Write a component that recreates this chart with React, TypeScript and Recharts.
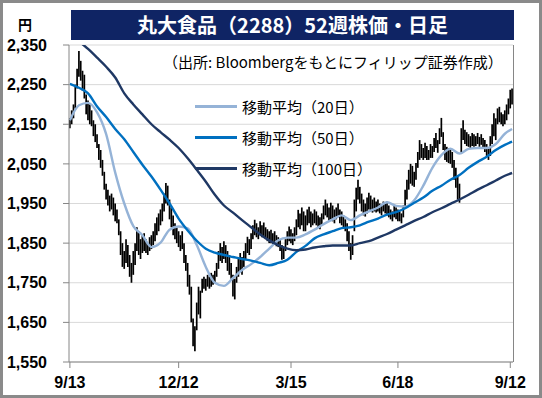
import React from 'react';
import { ComposedChart, Bar, Line, XAxis, YAxis, CartesianGrid } from 'recharts';

// daily high / low (yen), 9/13 -> 9/12
const highs = [
  2165, 2185, 2200, 2250, 2290, 2335, 2310, 2285, 2275, 2225,
  2210, 2200, 2185, 2160, 2150, 2125, 2100, 2085, 2060, 2030,
  2000, 1985, 1970, 1975, 1965, 1950, 1935, 1910, 1880, 1850,
  1830, 1860, 1845, 1820, 1800, 1830, 1850, 1890, 1880, 1860,
  1870, 1875, 1860, 1850, 1865, 1870, 1880, 1900, 1915, 1925,
  1935, 1950, 1975, 2002, 1995, 1960, 1940, 1920, 1900, 1890,
  1880, 1870, 1880, 1850, 1820, 1800, 1770, 1740, 1660, 1640,
  1700, 1740, 1730, 1760, 1765, 1760, 1770, 1765, 1775, 1770,
  1780, 1800, 1830, 1850, 1840, 1855, 1845, 1830, 1820, 1800,
  1770, 1760, 1790, 1810, 1825, 1815, 1830, 1850, 1866, 1860,
  1875, 1895, 1909, 1900, 1890, 1905, 1895, 1902, 1890, 1885,
  1880, 1884, 1875, 1880, 1870, 1865, 1860, 1845, 1840, 1860,
  1880, 1892, 1885, 1875, 1890, 1910, 1934, 1925, 1940, 1930,
  1920, 1935, 1942, 1930, 1925, 1935, 1930, 1920, 1915, 1925,
  1945, 1960, 1950, 1940, 1952, 1945, 1935, 1940, 1950, 1935,
  1930, 1920, 1910, 1900, 1880, 1850, 1870, 1960, 1990, 2010,
  1992, 1975, 1960, 1950, 1965, 1977, 1970, 1960, 1965, 1955,
  1960, 1950, 1945, 1955, 1950, 1955, 1945, 1935, 1930, 1945,
  1940, 1935, 1930, 1925, 1945, 1985, 2010, 2035, 2050, 2045,
  2030, 2052, 2080, 2110, 2100, 2090, 2103, 2095, 2085, 2100,
  2095, 2115, 2128, 2110, 2140, 2166, 2130, 2100, 2093, 2090,
  2085, 2080, 2060, 2040, 2020, 2000, 2140, 2160, 2136, 2130,
  2125, 2120, 2128, 2125, 2120, 2128, 2118, 2125, 2115, 2110,
  2100, 2090, 2120, 2150, 2178, 2165, 2190, 2194, 2180, 2175,
  2185, 2200, 2215, 2237, 2240,
];

const lows = [
  2140, 2150, 2165, 2190, 2240, 2270, 2260, 2235, 2215, 2175,
  2160, 2150, 2145, 2120, 2105, 2090, 2060, 2040, 2020, 1985,
  1960, 1945, 1930, 1935, 1920, 1905, 1900, 1870, 1820, 1790,
  1785, 1800, 1790, 1765, 1750, 1770, 1795, 1830, 1820, 1810,
  1825, 1830, 1825, 1820, 1830, 1835, 1845, 1855, 1870, 1880,
  1895, 1905, 1930, 1950, 1945, 1910, 1890, 1870, 1860, 1850,
  1840, 1830, 1835, 1800, 1780, 1740, 1720, 1650, 1590, 1577,
  1630, 1670, 1660, 1725, 1735, 1730, 1740, 1735, 1740, 1745,
  1750, 1765, 1785, 1805, 1800, 1810, 1800, 1780, 1770, 1760,
  1715, 1708, 1750, 1765, 1780, 1770, 1790, 1810, 1825, 1820,
  1835, 1860, 1870, 1865, 1860, 1870, 1865, 1865, 1860, 1855,
  1850, 1850, 1845, 1848, 1842, 1840, 1830, 1808, 1810, 1830,
  1845, 1855, 1850, 1845, 1855, 1870, 1890, 1885, 1895, 1880,
  1880, 1895, 1900, 1890, 1895, 1900, 1895, 1890, 1885, 1895,
  1910, 1920, 1915, 1905, 1910, 1905, 1900, 1910, 1915, 1900,
  1895, 1890, 1880, 1855, 1830, 1808, 1820, 1880, 1930, 1960,
  1950, 1930, 1920, 1917, 1925, 1935, 1930, 1927, 1930, 1927,
  1930, 1925, 1920, 1930, 1925, 1920, 1915, 1910, 1905, 1915,
  1910, 1905, 1905, 1900, 1915, 1940, 1960, 1985, 2000, 1995,
  1992, 2010, 2040, 2060, 2065, 2060, 2065, 2060, 2060, 2065,
  2065, 2080, 2090, 2078, 2100, 2118, 2085, 2060, 2055, 2052,
  2050, 2040, 2010, 1990, 1960, 1952, 2080, 2110, 2100, 2095,
  2093, 2090, 2095, 2093, 2095, 2100, 2093, 2098, 2090, 2080,
  2070, 2060, 2070, 2100, 2120, 2110, 2150, 2155, 2150, 2145,
  2150, 2160, 2175, 2190, 2200,
];

// moving averages, read every 5th trading day
const maDays = [
  0, 5, 10, 15, 20, 25, 30, 35, 40, 45, 50, 55, 60, 65, 70, 75, 80,
  85, 90, 95, 100, 105, 110, 115, 120, 125, 130, 135, 140, 145, 150, 155, 160,
  165, 170, 175, 180, 185, 190, 195, 200, 205, 210, 215, 220, 225, 230, 235, 240, 244,
];
const ma20 = [
  2160, 2198, 2204, 2180, 2125, 2028, 1950, 1893, 1870, 1840, 1851, 1884, 1892, 1887, 1845, 1790, 1750,
  1742, 1762, 1782, 1797, 1815, 1836, 1857, 1864, 1864, 1872, 1884, 1898, 1910, 1920, 1908, 1920,
  1930, 1940, 1953, 1944, 1942, 1958, 1995, 2040, 2072, 2088, 2076, 2088, 2090, 2090, 2100, 2126, 2138,
];
const ma50 = [
  2252, 2242, 2228, 2195, 2168, 2138, 2112, 2080, 2048, 2018, 1985, 1950, 1912, 1882, 1856, 1836, 1826,
  1820, 1815, 1810, 1806, 1800, 1794, 1800, 1808, 1828, 1843, 1862, 1872, 1880, 1888, 1890, 1895,
  1904, 1912, 1922, 1928, 1938, 1952, 1965, 1982, 1995, 2010, 2022, 2040, 2055, 2068, 2085, 2098, 2106,
];
const ma100 = [
  2385, 2360, 2340, 2318, 2295, 2268, 2228, 2200, 2175, 2150, 2130, 2111, 2090, 2064, 2035, 2005, 1972,
  1945, 1927, 1908, 1890, 1872, 1857, 1845, 1836, 1832, 1834, 1839, 1842, 1844, 1844, 1844, 1850,
  1855, 1864, 1873, 1884, 1895, 1906, 1916, 1928, 1938, 1949, 1960, 1972, 1985, 1996, 2008, 2020, 2027,
];

const tickDays = [0, 60, 122, 181, 243];
const tickLabels = ['9/13', '12/12', '3/15', '6/18', '9/12'];
const yTicks = [1550, 1650, 1750, 1850, 1950, 2050, 2150, 2250, 2350];

const series = [
  { key: 'ma20', name: '移動平均（20日）', color: '#95B3D7' },
  { key: 'ma50', name: '移動平均（50日）', color: '#0070C0' },
  { key: 'ma100', name: '移動平均（100日）', color: '#1F3864' },
];

const pick = (arr: number[], i: number) => {
  const k = maDays.indexOf(i);
  return k >= 0 ? arr[k] : null;
};

const data = highs.map((h, i) => ({
  i,
  range: [lows[i], h],
  ma20: pick(ma20, i),
  ma50: pick(ma50, i),
  ma100: pick(ma100, i),
}));

const jp = '"Noto Sans CJK JP", "Noto Sans", sans-serif';
const num = '"Liberation Sans", Arial, sans-serif';

export default function App() {
  return (
    <div style={{ position: 'absolute', left: 0, top: 0, width: 542, height: 398, background: '#fff' }}>
      <ComposedChart
        width={542}
        height={398}
        data={data}
        margin={{ top: 45, right: 29, bottom: 0, left: 0 }}
        barCategoryGap={0}
      >
        <CartesianGrid vertical={false} stroke="#d9d9d9" strokeWidth={1} />
        <XAxis
          dataKey="i"
          type="category"
          ticks={tickDays}
          interval={0}
          tickFormatter={(v) => tickLabels[tickDays.indexOf(Number(v))]}
          height={36}
          stroke="#868686"
          tickSize={6}
          tickMargin={9}
          tick={{ fill: '#000', fontSize: 16, fontWeight: 700, fontFamily: num }}
        />
        <YAxis
          domain={[1550, 2350]}
          ticks={yTicks}
          allowDataOverflow
          width={69}
          stroke="#868686"
          tickSize={6}
          tickMargin={16}
          tickFormatter={(v) => Number(v).toLocaleString('en-US')}
          tick={{ fill: '#000', fontSize: 16, fontWeight: 700, fontFamily: num }}
        />
        <Bar dataKey="range" fill="#000" barSize={1.7} isAnimationActive={false} />
        {series.map((s) => (
          <Line
            key={s.key}
            dataKey={s.key}
            name={s.name}
            type="monotone"
            stroke={s.color}
            strokeWidth={2.4}
            dot={false}
            connectNulls
            isAnimationActive={false}
          />
        ))}
      </ComposedChart>
      {/* right frame of the plot area */}
      <div style={{ position: 'absolute', left: 513, top: 45, width: 1, height: 317, background: '#868686' }} />
      <div
        style={{
          position: 'absolute', left: 71, top: 10, width: 443, height: 30, background: '#0F2464',
          color: '#fff', fontFamily: jp, fontWeight: 700, fontSize: 20, lineHeight: '30px', textAlign: 'center',
        }}
      >
        丸大食品（2288）52週株価・日足
      </div>
      <div style={{ position: 'absolute', left: 18, top: 14, fontFamily: jp, fontWeight: 700, fontSize: 14 }}>円</div>
      <div style={{ position: 'absolute', left: 163, top: 51, fontFamily: jp, fontSize: 15, color: '#000' }}>
        （出所: Bloombergをもとにフィリップ証券作成）
      </div>
      <div style={{ position: 'absolute', left: 195, top: 91, fontFamily: jp, fontSize: 15, color: '#000' }}>
        {series.map((s) => (
          <div key={s.key} style={{ display: 'flex', alignItems: 'center', height: 31 }}>
            <div style={{ width: 42, height: 3, background: s.color, marginRight: 5 }} />
            <span>{s.name}</span>
          </div>
        ))}
      </div>
      <div
        style={{
          position: 'absolute', left: 0, top: 0, width: 542, height: 398, boxSizing: 'border-box',
          border: '3px solid #8a8a8a', pointerEvents: 'none',
        }}
      />
    </div>
  );
}
